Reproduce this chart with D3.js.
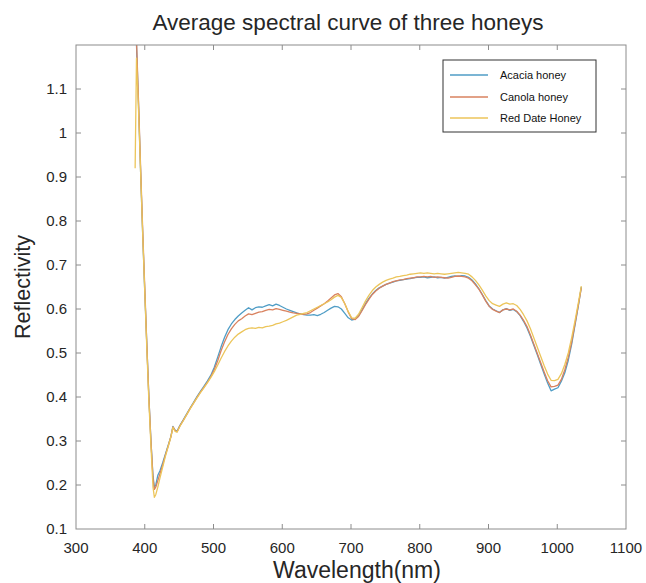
<!DOCTYPE html>
<html>
<head>
<meta charset="utf-8">
<script src="https://cdn.jsdelivr.net/npm/d3@7"></script>
<style>
  html, body { margin: 0; padding: 0; background: #fff; }
  svg { display: block; font-family: "Liberation Sans", Arial, Helvetica, sans-serif; }
  .tick-label { fill: #262626; font-size: 15px; }
</style>
</head>
<body>
<div id="chart"></div>
<script>
(function () {
    "use strict";

    // ---- data ---------------------------------------------------
    const wavelengths = [
        386, 388, 391, 394, 397, 400, 403, 406, 409, 412, 414, 416, 419, 422, 426, 430, 434, 438, 441, 444,
        447, 451, 456, 461, 466, 471, 476, 481, 486, 491, 496, 501, 506, 511, 516, 521, 526, 531, 536, 541,
        546, 551, 556, 561, 566, 571, 576, 581, 586, 591, 596, 601, 606, 611, 616, 621, 626, 631, 636, 641,
        646, 651, 656, 661, 666, 671, 676, 681, 686, 691, 696, 701, 706, 711, 716, 721, 726, 731, 736, 741,
        746, 751, 756, 761, 766, 771, 776, 781, 786, 791, 796, 801, 806, 811, 816, 821, 826, 831, 836, 841,
        846, 851, 856, 861, 866, 871, 876, 881, 886, 891, 896, 901, 906, 911, 916, 921, 926, 931, 936, 941,
        946, 951, 956, 961, 966, 971, 976, 981, 986, 991, 996, 1001, 1006, 1011, 1016, 1021, 1026, 1031, 1035
    ];

    const acacia = [
        1.26, 1.20, 1.06, 0.91, 0.77, 0.64, 0.52, 0.40, 0.30, 0.22, 0.195, 0.20, 0.222, 0.232, 0.25, 0.27, 0.29, 0.31, 0.333, 0.325,
        0.322, 0.335, 0.348, 0.362, 0.375, 0.388, 0.401, 0.413, 0.424, 0.436, 0.449, 0.467, 0.49, 0.514, 0.535, 0.553, 0.566, 0.576, 0.584, 0.591,
        0.597, 0.603, 0.598, 0.603, 0.605, 0.604, 0.607, 0.61, 0.607, 0.611, 0.608, 0.604, 0.60, 0.597, 0.594, 0.591, 0.589, 0.587, 0.586, 0.586,
        0.587, 0.585, 0.588, 0.592, 0.597, 0.602, 0.606, 0.605, 0.60, 0.59, 0.58, 0.575, 0.577, 0.585, 0.598, 0.612, 0.624, 0.634, 0.642, 0.648,
        0.652, 0.656, 0.659, 0.661, 0.664, 0.665, 0.667, 0.668, 0.669, 0.671, 0.672, 0.672, 0.673, 0.671, 0.672, 0.673, 0.671, 0.672, 0.67, 0.672,
        0.674, 0.675, 0.674, 0.676, 0.675, 0.672, 0.666, 0.657, 0.646, 0.633, 0.619, 0.607, 0.60, 0.596, 0.592, 0.598, 0.601, 0.597, 0.599, 0.594,
        0.585, 0.572, 0.557, 0.538, 0.517, 0.496, 0.474, 0.452, 0.432, 0.414, 0.418, 0.421, 0.436, 0.455, 0.483, 0.52, 0.565, 0.61, 0.65
    ];

    const canola = [
        1.26, 1.21, 1.07, 0.92, 0.78, 0.65, 0.52, 0.40, 0.30, 0.215, 0.19, 0.195, 0.21, 0.225, 0.245, 0.268, 0.288, 0.31, 0.332, 0.324,
        0.321, 0.334, 0.347, 0.36, 0.374, 0.386, 0.399, 0.411, 0.422, 0.433, 0.446, 0.462, 0.482, 0.505, 0.525, 0.542, 0.555, 0.565, 0.573, 0.578,
        0.584, 0.589, 0.587, 0.59, 0.593, 0.594, 0.597, 0.599, 0.598, 0.601, 0.599, 0.597, 0.595, 0.593, 0.591, 0.59, 0.589, 0.588, 0.589, 0.592,
        0.597, 0.602, 0.607, 0.612, 0.618, 0.625, 0.632, 0.635, 0.628, 0.612, 0.593, 0.578, 0.576, 0.583, 0.596, 0.61, 0.622, 0.633, 0.641, 0.647,
        0.652, 0.656, 0.659, 0.662, 0.664, 0.666, 0.667, 0.669, 0.67, 0.671, 0.673, 0.673, 0.674, 0.673, 0.674, 0.672, 0.673, 0.672, 0.671, 0.67,
        0.672, 0.674, 0.675, 0.674, 0.673, 0.67, 0.664, 0.655, 0.645, 0.632, 0.618, 0.606, 0.599, 0.595, 0.592, 0.598, 0.60, 0.598, 0.60, 0.595,
        0.586, 0.574, 0.56, 0.541, 0.52, 0.499, 0.478, 0.457, 0.437, 0.423, 0.424, 0.427, 0.44, 0.462, 0.49, 0.525, 0.568, 0.612, 0.648
    ];

    const redDate = [
        0.92, 1.17, 1.05, 0.91, 0.77, 0.64, 0.51, 0.39, 0.29, 0.195, 0.172, 0.178, 0.195, 0.215, 0.24, 0.265, 0.287, 0.309, 0.331, 0.322,
        0.32, 0.333, 0.346, 0.36, 0.373, 0.386, 0.398, 0.41, 0.421, 0.432, 0.444, 0.457, 0.472, 0.488, 0.503, 0.516, 0.527, 0.536, 0.543, 0.548,
        0.553, 0.556, 0.557, 0.556, 0.558, 0.557, 0.56, 0.561, 0.563, 0.566, 0.568, 0.571, 0.574, 0.578, 0.582, 0.586, 0.588, 0.59, 0.592, 0.596,
        0.60, 0.604, 0.608, 0.612, 0.616, 0.621, 0.627, 0.631, 0.626, 0.612, 0.594, 0.58, 0.579, 0.588, 0.603, 0.618, 0.631, 0.642, 0.65, 0.656,
        0.661, 0.665, 0.668, 0.67, 0.673, 0.674, 0.676, 0.677, 0.679, 0.68, 0.681, 0.682, 0.681, 0.682, 0.681, 0.68, 0.681, 0.68, 0.679, 0.68,
        0.681, 0.682, 0.683, 0.682, 0.681, 0.679, 0.673, 0.665, 0.655, 0.643, 0.63, 0.619, 0.612, 0.609, 0.606, 0.611, 0.614, 0.611, 0.612, 0.608,
        0.599, 0.587, 0.573, 0.555, 0.534, 0.513, 0.492, 0.471, 0.452, 0.438, 0.437, 0.44, 0.453, 0.474, 0.50, 0.535, 0.575, 0.617, 0.652
    ];

    const seriesNames = ["Acacia honey", "Canola honey", "Red Date Honey"];
    const seriesValues = [acacia, canola, redDate];
    const xTicks = [300, 400, 500, 600, 700, 800, 900, 1000, 1100];
    const yTicks = [0.1, 0.2, 0.3, 0.4, 0.5, 0.6, 0.7, 0.8, 0.9, 1, 1.1];

    const COLORS = ["#4f9dc6", "#d9825f", "#ecc55a"];

    // ---- layout -------------------------------------------------
    const W = 646, H = 583;
    const plot = { left: 76, right: 626, top: 45, bottom: 529 };

    const x = d3.scaleLinear().domain([300, 1100]).range([plot.left, plot.right]);
    const y = d3.scaleLinear().domain([0.1, 1.2]).range([plot.bottom, plot.top]);

    const svg = d3.select("#chart").append("svg")
        .attr("width", W).attr("height", H)
        .attr("viewBox", [0, 0, W, H]);

    svg.append("defs").append("clipPath").attr("id", "clip")
        .append("rect")
        .attr("x", plot.left).attr("y", plot.top)
        .attr("width", plot.right - plot.left)
        .attr("height", plot.bottom - plot.top);

    // ---- curves -------------------------------------------------
    const line = d3.line()
        .x(d => x(d[0]))
        .y(d => y(d[1]));

    svg.append("g").attr("clip-path", "url(#clip)")
        .selectAll("path")
        .data(seriesValues)
        .join("path")
        .attr("fill", "none")
        .attr("stroke", (d, i) => COLORS[i])
        .attr("stroke-width", 1.3)
        .attr("stroke-linejoin", "round")
        .attr("d", vals => line(wavelengths.map((w, i) => [w, vals[i]])));

    // ---- box + inward ticks (all four sides) -------------------
    const axisColor = "#8c8c8c";
    const tickLen = 5;

    svg.append("rect")
        .attr("x", plot.left).attr("y", plot.top)
        .attr("width", plot.right - plot.left)
        .attr("height", plot.bottom - plot.top)
        .attr("fill", "none").attr("stroke", axisColor).attr("stroke-width", 1);

    const ticks = svg.append("g").attr("stroke", axisColor).attr("stroke-width", 1);
    xTicks.slice(1, -1).forEach(t => {
        ticks.append("line").attr("x1", x(t)).attr("x2", x(t))
            .attr("y1", plot.bottom).attr("y2", plot.bottom - tickLen);
        ticks.append("line").attr("x1", x(t)).attr("x2", x(t))
            .attr("y1", plot.top).attr("y2", plot.top + tickLen);
    });
    yTicks.slice(1).forEach(t => {
        ticks.append("line").attr("y1", y(t)).attr("y2", y(t))
            .attr("x1", plot.left).attr("x2", plot.left + tickLen);
        ticks.append("line").attr("y1", y(t)).attr("y2", y(t))
            .attr("x1", plot.right).attr("x2", plot.right - tickLen);
    });

    // ---- tick labels --------------------------------------------
    svg.append("g").selectAll("text")
        .data(xTicks).join("text")
        .attr("class", "tick-label")
        .attr("x", d => x(d)).attr("y", plot.bottom + 24)
        .attr("text-anchor", "middle")
        .text(d => d);

    svg.append("g").selectAll("text")
        .data(yTicks).join("text")
        .attr("class", "tick-label")
        .attr("x", plot.left - 9).attr("y", d => y(d) + 5)
        .attr("text-anchor", "end")
        .text(d => d3.format("~g")(d));

    // ---- titles -------------------------------------------------
    svg.append("text")
        .attr("x", 348).attr("y", 30)
        .attr("text-anchor", "middle")
        .attr("fill", "#262626").attr("font-size", 22.5)
        .text("Average spectral curve of three honeys");

    svg.append("text")
        .attr("x", 357).attr("y", 578)
        .attr("text-anchor", "middle")
        .attr("fill", "#262626").attr("font-size", 23)
        .text("Wavelength(nm)");

    svg.append("text")
        .attr("transform", `translate(30,${(plot.top + plot.bottom) / 2}) rotate(-90)`)
        .attr("text-anchor", "middle")
        .attr("fill", "#262626").attr("font-size", 21.5)
        .text("Reflectivity");

    // ---- legend -------------------------------------------------
    const legend = svg.append("g");
    legend.append("rect")
        .attr("x", 443).attr("y", 60).attr("width", 153).attr("height", 72)
        .attr("fill", "#fff").attr("stroke", "#333").attr("stroke-width", 1);

    const rowY = [75, 97, 118];
    seriesNames.forEach((name, i) => {
        legend.append("line")
            .attr("x1", 450).attr("x2", 488)
            .attr("y1", rowY[i]).attr("y2", rowY[i])
            .attr("stroke", COLORS[i]).attr("stroke-width", 1.3);
        legend.append("text")
            .attr("x", 500).attr("y", rowY[i] + 4)
            .attr("fill", "#111").attr("font-size", 11)
            .text(name);
    });
})();
</script>
</body>
</html>
